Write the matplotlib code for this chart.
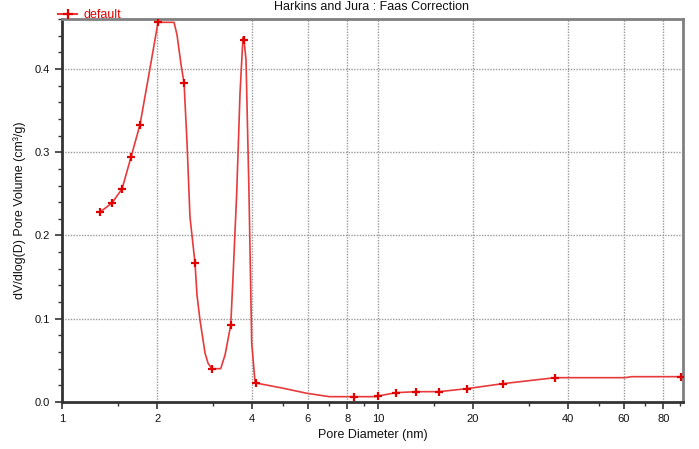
import matplotlib
matplotlib.use("Agg")
import matplotlib.pyplot as plt
from matplotlib.lines import Line2D
from matplotlib.ticker import FixedLocator, NullFormatter

plt.rcParams["font.family"] = ["Liberation Sans", "DejaVu Sans"]

# curve (pore diameter nm, dV/dlogD cm3/g)
curve_d = [1.319, 1.439, 1.549, 1.653, 1.765, 1.885, 2.013, 2.262, 2.312, 2.381,
           2.434, 2.487, 2.541, 2.636, 2.674, 2.733, 2.835, 2.897, 2.978, 3.178,
           3.281, 3.420, 3.477, 3.572, 3.659, 3.739, 3.767, 3.822, 3.906, 3.984,
           4.082, 4.11, 5.015, 5.95, 7.015, 8.395, 9.856, 10.0, 11.40, 13.19,
           15.6, 19.09, 24.81, 36.32, 60.47, 63.5, 90.97]
curve_v = [0.228, 0.239, 0.256, 0.294, 0.333, 0.394, 0.456, 0.456, 0.441, 0.405,
           0.383, 0.311, 0.222, 0.167, 0.1285, 0.0985, 0.0589, 0.0468, 0.040, 0.040,
           0.0565, 0.0925, 0.150, 0.251, 0.371, 0.438, 0.435, 0.411, 0.251, 0.071,
           0.024, 0.0228, 0.0165, 0.0105, 0.0064, 0.0064, 0.0064, 0.0072, 0.0112, 0.0124,
           0.0124, 0.016, 0.022, 0.0292, 0.0292, 0.0304, 0.0304]

# measured points (+ markers)
point_d = [1.319, 1.439, 1.549, 1.653, 1.765, 2.013, 2.434, 2.636, 2.978, 3.420,
           3.767, 4.11, 8.395, 10.0, 11.40, 13.19, 15.6, 19.09, 24.81, 36.32, 90.97]
point_v = [0.228, 0.239, 0.256, 0.294, 0.333, 0.456, 0.383, 0.167, 0.040, 0.0925,
           0.435, 0.0228, 0.0064, 0.0072, 0.0112, 0.0124, 0.0124, 0.016, 0.022, 0.0292, 0.0304]

x_major = [1, 2, 4, 6, 8, 10, 20, 40, 60, 80]
x_minor = [1.5, 3, 5, 7, 9, 15, 30, 50, 70, 90]
y_major = [0.0, 0.1, 0.2, 0.3, 0.4]

fig = plt.figure(figsize=(6.99, 4.49), dpi=100)
ax = fig.add_axes([62 / 699, 47 / 449, 621 / 699, 383 / 449])

ax.plot(curve_d, curve_v, color="#e83a3a", lw=1.2, zorder=3)
ax.plot(point_d, point_v, ls="none", marker="+", ms=6, mew=1.6, color="#e00000", zorder=4)

ax.set_xscale("log")
ax.set_xlim(1, 92.3)
ax.set_ylim(0, 0.46)

ax.xaxis.set_major_locator(FixedLocator(x_major))
ax.xaxis.set_minor_locator(FixedLocator(x_minor))
ax.xaxis.set_minor_formatter(NullFormatter())
ax.set_xticklabels([str(v) for v in x_major])
ax.yaxis.set_major_locator(FixedLocator(y_major))
ax.yaxis.set_minor_locator(FixedLocator([i * 0.02 for i in range(24)]))
ax.set_yticklabels([f"{v:.1f}" for v in y_major])

ax.tick_params(which="major", length=5, width=1.2, labelsize=8, colors="#333333", labelcolor="#111111")
ax.tick_params(which="minor", length=3, width=1.0, colors="#333333")

for v in x_major[1:]:
    ax.axvline(v, color="#9a9a9a", lw=1, ls=(0, (1, 1)), zorder=1)
for v in y_major[1:]:
    ax.axhline(v, color="#9a9a9a", lw=1, ls=(0, (1, 1)), zorder=1)

for side in ["left", "bottom"]:
    ax.spines[side].set_color("#333333")
    ax.spines[side].set_linewidth(2)
for side in ["top", "right"]:
    ax.spines[side].set_color("#808080")
    ax.spines[side].set_linewidth(2)

ax.set_xlabel("Pore Diameter (nm)", fontsize=9, color="#111111", labelpad=4)
ax.set_ylabel("dV/dlog(D) Pore Volume (cm³/g)", fontsize=9, color="#111111", labelpad=6)

fig.text(372 / 699, 1 - 1 / 449, "Harkins and Jura : Faas Correction", ha="center",
         va="top", fontsize=9, color="#111111")

handle = Line2D([], [], color="#e83a3a", lw=1.5, marker="+", ms=7, mew=1.6, mec="#e00000")
ax.legend([handle], ["default"], loc="lower left", bbox_to_anchor=(-0.006, 0.995),
          frameon=False, fontsize=9, labelcolor="#e00000", handlelength=1.5,
          handletextpad=0.5, borderaxespad=0, borderpad=0)

fig.savefig("out.png", dpi=100)
